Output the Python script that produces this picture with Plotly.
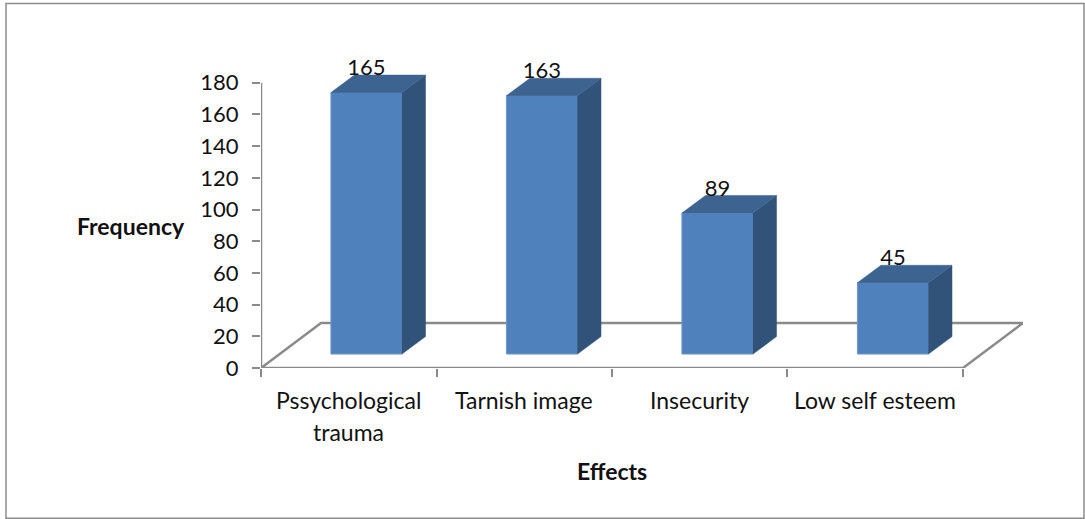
import plotly.graph_objects as go

categories = ["Pssychological<br>trauma", "Tarnish image", "Insecurity", "Low self esteem"]
values = [165, 163, 89, 45]
y_ticks = [0, 20, 40, 60, 80, 100, 120, 140, 160, 180]

W, H = 1085, 519
Y_TOP = 200
ML, MR, MB = 261, 62, 151
MT = H - MB - 285 / 180 * Y_TOP
FONT = "Lato, Carlito, Calibri, sans-serif"
FRONT, TOP, SIDE = "#4f81bd", "#3d6391", "#325379"
AXIS = "#8a8a8a"

# 3-D projection in axis units
FLOOR_DX, FLOOR_DY = 0.342, 28.4
BAR_SHIFT, BAR_W = 0.101, 0.405
BASE = 8.8
DEPTH_DX, DEPTH_DY = 0.134, 11.0
LABEL_UP = 14.5

xs = [i + 0.5 for i in range(len(categories))]
centers = [x + BAR_SHIFT for x in xs]

fig = go.Figure()
fig.add_trace(go.Bar(x=centers, y=values, base=[BASE] * len(values), width=BAR_W,
                     marker=dict(color=FRONT, line=dict(color="#6f97c9", width=1)),
                     showlegend=False))

for c, v in zip(centers, values):
    l, r = c - BAR_W / 2, c + BAR_W / 2
    top = BASE + v
    fig.add_trace(go.Scatter(x=[r, r + DEPTH_DX, r + DEPTH_DX, r, r],
                             y=[BASE, BASE + DEPTH_DY, top + DEPTH_DY, top, BASE],
                             mode="lines", fill="toself", fillcolor=SIDE,
                             line=dict(color=SIDE, width=0.5), showlegend=False))
    fig.add_trace(go.Scatter(x=[l, r, r + DEPTH_DX, l + DEPTH_DX, l],
                             y=[top, top, top + DEPTH_DY, top + DEPTH_DY, top],
                             mode="lines", fill="toself", fillcolor=TOP,
                             line=dict(color=TOP, width=0.5), showlegend=False))

fig.add_trace(go.Scatter(x=centers, y=[BASE + v + LABEL_UP for v in values],
                         text=[str(v) for v in values], mode="text", textposition="middle center",
                         textfont=dict(family=FONT, size=22, color="#111111"),
                         showlegend=False))

n = len(categories)
PW = W - ML - MR
PH = H - MT - MB
shapes = [
    dict(type="path", xref="x", yref="y", layer="below",
         path=f"M 0 0 L {n} 0 L {n + FLOOR_DX} {FLOOR_DY} L {FLOOR_DX} {FLOOR_DY} Z",
         line=dict(color=AXIS, width=2.5), fillcolor="white"),
    dict(type="line", xref="x", yref="y", layer="below", x0=0, x1=0, y0=0, y1=180,
         line=dict(color=AXIS, width=2.5)),
    dict(type="rect", xref="paper", yref="paper", layer="below",
         x0=(6 - ML) / PW, x1=(1084 - ML) / PW,
         y0=(H - MB - 518) / PH, y1=(H - MB - 4) / PH,
         line=dict(color="#8c8c8c", width=1.5), fillcolor="rgba(0,0,0,0)"),
]

annotations = []
for x, label in zip(xs, categories):
    for i, line in enumerate(label.split("<br>")):
        annotations.append(dict(x=x, y=0, xref="x", yref="y", text=line, showarrow=False,
                                xanchor="center", yanchor="middle", yshift=-32 - 32 * i,
                                font=dict(family=FONT, size=23, color="#111111")))
annotations += [
    dict(x=(131 - ML) / PW, y=(H - MB - 226) / PH, xref="paper", yref="paper",
         text="<b>Frequency</b>", showarrow=False, xanchor="center", yanchor="middle",
         font=dict(family=FONT, size=23, color="#111111")),
    dict(x=(612 - ML) / PW, y=(H - MB - 471) / PH, xref="paper", yref="paper",
         text="<b>Effects</b>", showarrow=False, xanchor="center", yanchor="middle",
         font=dict(family=FONT, size=23, color="#111111")),
]

fig.update_layout(
    width=W, height=H, margin=dict(l=ML, r=MR, t=MT, b=MB),
    paper_bgcolor="white", plot_bgcolor="white", showlegend=False,
    shapes=shapes, annotations=annotations,
    xaxis=dict(range=[0, n + FLOOR_DX], tickvals=list(range(n + 1)), ticktext=[""] * (n + 1),
               ticks="outside", ticklen=8, tickwidth=2, tickcolor=AXIS,
               showgrid=False, zeroline=False, showline=False),
    yaxis=dict(range=[0, Y_TOP], tickvals=y_ticks, ticks="outside", ticklen=8, tickwidth=2, tickcolor=AXIS,
               showgrid=False, zeroline=False, showline=False,
               ticklabelstandoff=9, tickfont=dict(family=FONT, size=22, color="#111111")),
)

fig.write_html("out.html", config=dict(displayModeBar=False),
               post_script="document.body.style.margin='0';document.documentElement.style.overflow='hidden';")
